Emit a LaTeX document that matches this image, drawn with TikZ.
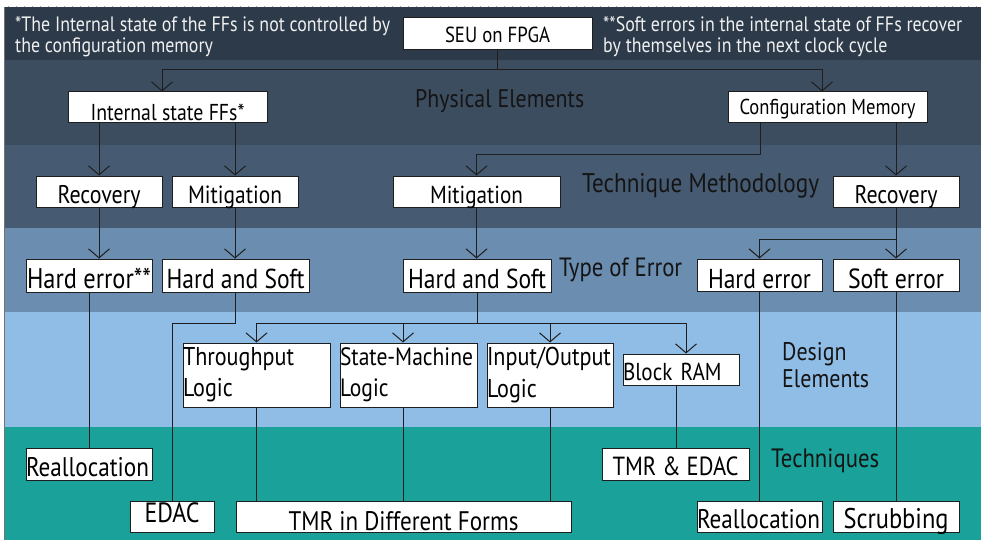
\documentclass[tikz,border=0pt]{standalone}
\usepackage{fontspec}
\setmainfont[FakeStretch=0.86]{PT Sans}
\usetikzlibrary{arrows.meta}

\definecolor{bandA}{HTML}{2C3A4A}
\definecolor{bandB}{HTML}{3C4D60}
\definecolor{bandC}{HTML}{465B72}
\definecolor{bandD}{HTML}{6A8DB0}
\definecolor{bandE}{HTML}{90BDE6}
\definecolor{bandF}{HTML}{1AA199}
\definecolor{linec}{HTML}{1E1E1E}
\definecolor{notec}{HTML}{F0F0F0}

% set the font so that the sample text #2 is #1 pt wide
\newcommand\fitfont[2]{%
  \setbox0=\hbox{\fontsize{10}{12}\selectfont #2}%
  \pgfmathsetmacro\fitsz{10*#1/\the\wd0}%
  \pgfmathsetmacro\fitbs{1.22*\fitsz}%
  \fontsize{\fitsz}{\fitbs}\selectfont}

\tikzset{
  box/.style={draw=linec, fill=white, line width=1pt, inner sep=0pt, text=black},
  bl/.style={text height=#1, text depth=0pt},
  sz/.style n args={2}{minimum width=#1, minimum height=#2},
  lft/.style={text width=#1, align=left},
  lab/.style={inner sep=0pt, anchor=base west, text=black!92},
  note/.style={inner sep=0pt, anchor=base west, text=notec},
  ln/.style={draw=linec, line width=1pt},
  arr/.style={ln, line join=round, -{Straight Barb[length=9pt,width=21pt]}},
}

\begin{document}
\begin{tikzpicture}[x=1pt,y=-1pt]
\useasboundingbox (0,0) rectangle (981,540);
\fill[white] (0,0) rectangle (981,540);

% horizontal bands
\fill[bandA] (4,7) rectangle (981,60);
\fill[bandB] (4,60) rectangle (981,145);
\fill[bandC] (4,145) rectangle (981,228);
\fill[bandD] (4,228) rectangle (981,312);
\fill[bandE] (4,312) rectangle (981,427);
\fill[bandF] (4,427) rectangle (981,540);
\draw[black!55, line width=1.3pt] (4.6,7) -- (4.6,540);
\draw[black!35, line width=0.6pt, dash pattern=on 1pt off 7pt] (8,6.5) -- (981,6.5);

% notes
\node[note, font={\fitfont{375}{*The Internal state of the FFs is not controlled by}}] (n1a) at (15,32) {*The Internal state of the FFs is not controlled by};
\node[note, font={\fitfont{375}{*The Internal state of the FFs is not controlled by}}] (n1b) at (15,53) {the configuration memory};
\node[note, font={\fitfont{359}{**Soft errors in the internal state of FFs recover}}] (n2a) at (603,32) {**Soft errors in the internal state of FFs recover};
\node[note, font={\fitfont{359}{**Soft errors in the internal state of FFs recover}}] (n2b) at (603,53) {by themselves in the next clock cycle};

% band labels
\node[lab, font={\fitfont{169}{Physical Elements}}] (pe) at (415,108) {Physical Elements};
\node[lab, font={\fitfont{237}{Technique Methodology}}] (tm) at (582,192) {Technique Methodology};
\node[lab, font={\fitfont{123}{Type of Error}}] (toe) at (559,276) {Type of Error};
\node[lab, font={\fitfont{87}{Elements}}] (de1) at (782,360) {Design};
\node[lab, font={\fitfont{87}{Elements}}] (de2) at (782,387) {Elements};
\node[lab, font={\fitfont{108}{Techniques}}] (tq) at (771,467) {Techniques};

% boxes
\node[box, sz={189}{32}, bl=18, font={\fitfont{105}{SEU on FPGA}}] (seu) at (497.5,34) {SEU on FPGA};
\node[box, sz={199}{31}, bl=26, font={\fitfont{154}{Internal state FFs*}}] (ifs) at (167.5,107.5) {Internal state FFs*};
\node[box, sz={199}{31}, bl=15, font={\fitfont{176}{Configuration Memory}}] (cfg) at (827.5,107.5) {Configuration Memory};
\node[box, sz={126}{31}, bl=23, font={\fitfont{83}{Recovery}}] (rec1) at (99,191.5) {Recovery};
\node[box, sz={126}{31}, bl=23, font={\fitfont{94}{Mitigation}}] (mit1) at (235,191.5) {Mitigation};
\node[box, sz={167}{31}, bl=23, font={\fitfont{93}{Mitigation}}] (mit2) at (476.5,191.5) {Mitigation};
\node[box, sz={126}{31}, bl=23, font={\fitfont{83}{Recovery}}] (rec2) at (896,191.5) {Recovery};
\node[box, sz={126}{33}, bl=25, font={\fitfont{124}{Hard error**}}] (he1) at (89,275.5) {Hard error**};
\node[box, sz={147}{33}, bl=25, font={\fitfont{138}{Hard and Soft}}] (hs1) at (235.5,275.5) {Hard and Soft};
\node[box, sz={148}{33}, bl=25, font={\fitfont{138}{Hard and Soft}}] (hs2) at (477,275.5) {Hard and Soft};
\node[box, sz={125}{32}, bl=26, font={\fitfont{103}{Hard error}}] (he2) at (759.5,275) {Hard error};
\node[box, sz={126}{32}, bl=26, font={\fitfont{96}{Soft error}}] (se) at (896,275) {Soft error};
\node[box, sz={147}{64}, lft=147, font={\fitfont{111}{Throughput}}] (tp) at (256.5,375) {Throughput\\Logic};
\node[box, sz={137}{64}, lft=137, font={\fitfont{133}{State-Machine}}] (sm) at (408.5,375) {State-Machine\\Logic};
\node[box, sz={126}{64}, lft=126, font={\fitfont{124}{Input/Output}}] (io) at (550,375) {Input/Output\\Logic};
\node[box, sz={116}{31}, lft=116, bl=21, font={\fitfont{96}{Block RAM}}] (br) at (681,369.5) {Block RAM};
\node[box, sz={126}{32}, lft=126, bl=25, font={\fitfont{123}{Reallocation}}] (re1) at (89,464) {Reallocation};
\node[box, sz={84}{31}, bl=11, font={\fitfont{55}{EDAC}}] (edac) at (172,516.5) {EDAC};
\node[box, sz={335}{31}, bl=27, font={\fitfont{230}{TMR in Different Forms}}] (tmr) at (403.5,516.5) {TMR in Different Forms};
\node[box, sz={147}{32}, bl=22, font={\fitfont{126}{TMR \& EDAC}}] (te) at (675.5,464) {TMR \& EDAC};
\node[box, sz={125}{31}, lft=125, bl=23, font={\fitfont{123}{Reallocation}}] (re2) at (759.5,516.5) {Reallocation};
\node[box, sz={126}{31}, bl=23, font={\fitfont{105}{Scrubbing}}] (scr) at (896,516.5) {Scrubbing};

% junction points
\coordinate (j0) at (497.5,70);
\coordinate (j1) at (760,155);
\coordinate (j2) at (896,239);
\coordinate (j4) at (477,323);

% connectors
\draw[ln] (seu.south) -- (j0);
\draw[arr] (j0) -| ([xshift=-5.5]ifs.north);
\draw[arr] (j0) -| ([xshift=-5.5]cfg.north);
\draw[arr] (ifs.south -| rec1) -- (rec1.north);
\draw[arr] (ifs.south -| mit1) -- (mit1.north);
\draw[arr] (cfg.south -| j1) -- (j1) -| (mit2.north);
\draw[arr] (cfg.south -| rec2) -- (rec2.north);
\draw[arr] (rec1.south) -- (rec1.south |- he1.north);
\draw[arr] (mit1.south) -- (mit1.south |- hs1.north);
\draw[arr] (mit2.south) -- (mit2.south |- hs2.north);
\draw[arr] (rec2.south) -- (se.north);
\draw[arr] (j2) -| (he2.north);
\draw[ln] (he1.south) -- (re1.north);
\draw[ln] (hs1.south) -- ++(0,31) -| (edac.north);
\draw[ln] (hs2.south) -- (j4);
\draw[arr] (j4) -| (tp.north);
\draw[arr] (j4) -| ([xshift=-5.5]sm.north);
\draw[arr] (j4) -| (io.north);
\draw[arr] (j4) -| ([xshift=5]br.north);
\draw[ln] (tp.south) -- (tp.south |- tmr.north);
\draw[ln] ([xshift=-5.5]sm.south) -- ([xshift=-5.5]sm.south |- tmr.north);
\draw[ln] (io.south) -- (io.south |- tmr.north);
\draw[ln] ([xshift=-5]br.south) -- ([xshift=-5]br.south |- te.north);
\draw[ln] (he2.south) -- (re2.north);
\draw[ln] (se.south) -- (scr.north);
\end{tikzpicture}
\end{document}
